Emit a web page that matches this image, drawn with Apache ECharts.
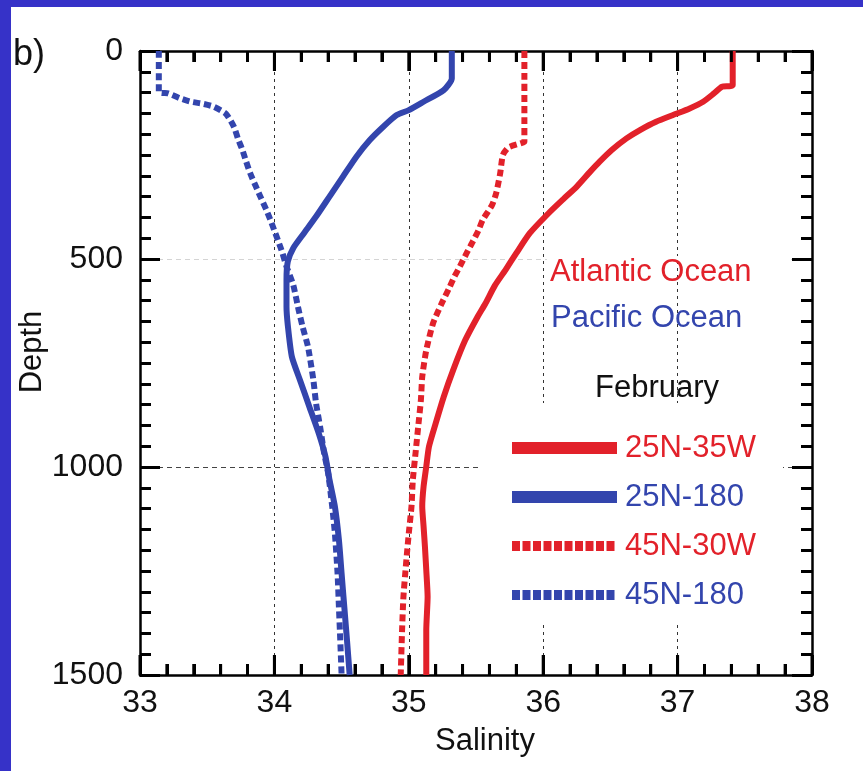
<!DOCTYPE html>
<html>
<head>
<meta charset="utf-8">
<title>Salinity profiles, February</title>
<script src="https://cdn.jsdelivr.net/npm/echarts@6/dist/echarts.min.js"></script>
<style>
  html, body { margin: 0; padding: 0; width: 863px; height: 771px; background: #3632c8; overflow: hidden; }
  .panel { position: absolute; left: 11px; top: 7px; width: 852px; height: 764px; background: #ffffff; }
</style>
</head>
<body>
<div class="panel" id="chart"></div>
<script>
// Salinity (x) against depth in metres (y, increasing downward)
const salinityTicks = [33, 34, 35, 36, 37, 38];
const depthTicks = [0, 500, 1000, 1500];
const salinityMinorSteps = 5;

// Atlantic, 25N-35W
const atl25Depth = [0, 82, 86, 102, 122, 138, 151, 170, 190, 210, 238, 266, 290, 326, 356, 390, 438, 486, 526, 564,
  607, 640, 695, 767, 831, 895, 951, 999, 1047, 1095, 1143, 1191, 1248, 1312, 1392, 1500];
const atl25Sal = [37.41, 37.41, 37.33, 37.27, 37.19, 37.09, 36.99, 36.84, 36.72, 36.62, 36.51, 36.42, 36.35, 36.25, 36.15, 36.04, 35.90, 35.80, 35.72, 35.64,
  35.57, 35.51, 35.42, 35.33, 35.26, 35.20, 35.15, 35.13, 35.11, 35.10, 35.11, 35.12, 35.13, 35.14, 35.13, 35.13];

// Pacific, 25N-180
const pac25Depth = [0, 66, 94, 122, 142, 154, 182, 214, 254, 302, 350, 398, 438, 474, 506, 550, 615, 660, 735, 791,
  855, 919, 975, 1031, 1095, 1175, 1256, 1336, 1416, 1500];
const pac25Sal = [35.32, 35.32, 35.26, 35.11, 35.00, 34.91, 34.81, 34.71, 34.61, 34.51, 34.41, 34.31, 34.22, 34.14, 34.10, 34.09, 34.09, 34.10, 34.13, 34.19,
  34.26, 34.33, 34.38, 34.41, 34.45, 34.48, 34.50, 34.52, 34.54, 34.56];

// Atlantic, 45N-30W
const atl45Depth = [0, 218, 222, 232, 250, 294, 342, 370, 406, 430, 462, 486, 518, 542, 570, 610, 655, 719, 783, 839,
  903, 967, 1031, 1095, 1159, 1231, 1312, 1392, 1500];
const atl45Sal = [35.86, 35.86, 35.83, 35.74, 35.70, 35.68, 35.65, 35.62, 35.55, 35.52, 35.47, 35.43, 35.38, 35.34, 35.30, 35.24, 35.18, 35.13, 35.10, 35.09,
  35.07, 35.05, 35.03, 35.02, 35.00, 34.98, 34.96, 34.95, 34.94];

// Pacific, 45N-180
const pac45Depth = [0, 98, 102, 114, 122, 127, 134, 151, 183, 212, 236, 266, 294, 324, 346, 382, 406, 432, 458, 486,
  518, 562, 622, 663, 711, 791, 847, 903, 967, 1015, 1095, 1159, 1256, 1336, 1416, 1500];
const pac45Sal = [33.14, 33.14, 33.21, 33.30, 33.38, 33.47, 33.55, 33.64, 33.70, 33.73, 33.76, 33.79, 33.82, 33.86, 33.89, 33.94, 33.97, 34.00, 34.03, 34.06,
  34.09, 34.14, 34.18, 34.21, 34.25, 34.29, 34.31, 34.34, 34.37, 34.40, 34.43, 34.45, 34.47, 34.48, 34.49, 34.50];

const seriesNames = ['25N-35W', '25N-180', '45N-30W', '45N-180'];

const RED = '#e2212a';
const BLUE = '#3345ad';
const FONT = '"Liberation Sans", Arial, Helvetica, sans-serif';

function pairs(sal, depth) {
  return sal.map((s, i) => [s, depth[i]]);
}

// Tick positions along the salinity frame edges: [value, 1 = major / 0 = minor]
function salinityTickMarks() {
  const out = [];
  salinityTicks.forEach((s, i) => {
    out.push([s, 1]);
    if (i < salinityTicks.length - 1) {
      const step = (salinityTicks[i + 1] - s) / salinityMinorSteps;
      for (let k = 1; k < salinityMinorSteps; k++) out.push([+(s + k * step).toFixed(3), 0]);
    }
  });
  return out;
}

// Frame line plus inward ticks, shared look of all four sides
function frameAxis(base, minorSplit, extra) {
  return Object.assign({}, base, {
    axisLine: { show: true, onZero: false, lineStyle: { color: '#000', width: 2.5 } },
    axisTick: { show: true, inside: true, length: 20, lineStyle: { color: '#000', width: 3 } },
    minorTick: { show: true, splitNumber: minorSplit, length: 11, lineStyle: { color: '#000', width: 3 } },
    axisLabel: { show: false },
    splitLine: { show: false }
  }, extra);
}

const xBase = {
  type: 'value',
  min: salinityTicks[0],
  max: salinityTicks[salinityTicks.length - 1],
  interval: 1
};
const yBase = {
  type: 'value',
  inverse: true,
  min: depthTicks[0],
  max: depthTicks[depthTicks.length - 1],
  interval: 500
};

function lineSeries(name, data, color, dotted) {
  return {
    name: name,
    type: 'line',
    data: data,
    symbol: 'none',
    showSymbol: false,
    smooth: 0.2,
    animation: false,
    z: dotted ? 3 : 2,
    lineStyle: {
      color: color,
      width: 6,
      type: dotted ? [7, 4] : 'solid',
      cap: 'butt',
      join: 'round'
    },
    itemStyle: { color: color }
  };
}

// Inward ticks on the top and bottom frame edges, placed through the salinity axis
function renderFrameTicks(params, api) {
  const v = api.value(0);
  const len = api.value(1) === 1 ? 20 : 11;
  const top = api.coord([v, depthTicks[0]]);
  const bottom = api.coord([v, depthTicks[depthTicks.length - 1]]);
  const style = { stroke: '#000', lineWidth: 3 };
  return {
    type: 'group',
    children: [
      { type: 'line', shape: { x1: top[0], y1: top[1], x2: top[0], y2: top[1] + len }, style: style },
      { type: 'line', shape: { x1: bottom[0], y1: bottom[1], x2: bottom[0], y2: bottom[1] - len }, style: style }
    ]
  };
}

const labelStyle = { show: true, color: '#111', fontSize: 32, fontFamily: FONT, formatter: v => String(v) };

const chart = echarts.init(document.getElementById('chart'), null, { renderer: 'canvas' });

chart.setOption({
  animation: false,
  backgroundColor: '#ffffff',
  grid: { left: 129, right: 51, top: 44, bottom: 96, containLabel: false, outerBoundsMode: 'none' },
  xAxis: [
    frameAxis(xBase, 5, {
      position: 'bottom',
      name: 'Salinity',
      nameLocation: 'middle',
      nameGap: 51,
      nameMoveOverlap: false,
      nameTextStyle: { color: '#111', fontSize: 31, fontFamily: FONT, padding: [0, 0, 0, 18] },
      axisLabel: Object.assign({ margin: 12 }, labelStyle),
      splitLine: { show: true, lineStyle: { color: '#333', width: 1, type: [3, 4] } }
    }),
    frameAxis(xBase, 5, { position: 'top' })
  ],
  yAxis: [
    frameAxis(yBase, 10, {
      position: 'left',
      name: 'Depth',
      nameLocation: 'middle',
      nameGap: 92,
      nameMoveOverlap: false,
      nameTextStyle: { color: '#111', fontSize: 31, fontFamily: FONT, padding: [0, 0, 0, 22] },
      axisLabel: Object.assign({ margin: 17 }, labelStyle),
      splitLine: { show: true, lineStyle: { color: ['#444', '#d4d4d4', '#444', '#444'], width: 1.2, type: [5, 4] } }
    }),
    frameAxis(yBase, 10, { position: 'right' })
  ],
  legend: {
    show: true,
    orient: 'vertical',
    left: 491,
    top: 420,
    itemWidth: 105,
    itemHeight: 12,
    itemGap: 17,
    selectedMode: false,
    textStyle: { fontSize: 31, fontFamily: FONT, lineHeight: 32, padding: [0, 0, 0, 3] },
    data: [
      { name: seriesNames[0], icon: 'rect', itemStyle: { color: RED }, textStyle: { color: RED } },
      { name: seriesNames[1], icon: 'rect', itemStyle: { color: BLUE }, textStyle: { color: BLUE } },
      { name: seriesNames[2], itemStyle: { opacity: 0 }, textStyle: { color: RED }, lineStyle: { width: 10, type: [8, 2.5], cap: 'butt' } },
      { name: seriesNames[3], itemStyle: { opacity: 0 }, textStyle: { color: BLUE }, lineStyle: { width: 10, type: [8, 2.5], cap: 'butt' } }
    ]
  },
  graphic: [
    // white panel behind the line key
    { type: 'rect', z: 1, silent: true, shape: { x: 471, y: 396, width: 301, height: 219 }, style: { fill: '#ffffff' } },
    // white strip behind the region titles
    { type: 'rect', z: 1, silent: true, shape: { x: 536, y: 249, width: 244, height: 6 }, style: { fill: '#ffffff' } },
    { type: 'text', z: 5, silent: true, style: { x: 2, y: 48, text: 'b)', fill: '#111', font: '36px ' + FONT, textVerticalAlign: 'middle' } },
    { type: 'text', z: 5, silent: true, style: { x: 539, y: 265, text: 'Atlantic Ocean', fill: RED, font: '31px ' + FONT, textVerticalAlign: 'middle' } },
    { type: 'text', z: 5, silent: true, style: { x: 540, y: 311, text: 'Pacific Ocean', fill: BLUE, font: '31px ' + FONT, textVerticalAlign: 'middle' } },
    { type: 'text', z: 5, silent: true, style: { x: 584, y: 381, text: 'February', fill: '#111', font: '31px ' + FONT, textVerticalAlign: 'middle' } }
  ],
  series: [
    lineSeries(seriesNames[0], pairs(atl25Sal, atl25Depth), RED, false),
    lineSeries(seriesNames[1], pairs(pac25Sal, pac25Depth), BLUE, false),
    lineSeries(seriesNames[2], pairs(atl45Sal, atl45Depth), RED, true),
    lineSeries(seriesNames[3], pairs(pac45Sal, pac45Depth), BLUE, true),
    {
      name: 'frame ticks',
      type: 'custom',
      renderItem: renderFrameTicks,
      data: salinityTickMarks(),
      encode: { x: 0, y: 1 },
      clip: false,
      silent: true,
      animation: false,
      z: 4
    }
  ]
});
</script>
</body>
</html>
